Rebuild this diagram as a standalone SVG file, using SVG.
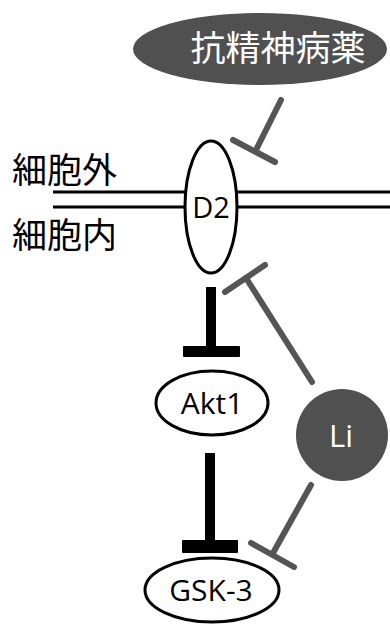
<svg xmlns="http://www.w3.org/2000/svg" width="390" height="635" viewBox="0 0 390 635">
  <style>
    .jp { font-family: "Noto Sans CJK JP", "Noto Sans", sans-serif; font-size: 35px; }
    .lat { font-family: "Open Sans", "Noto Sans", sans-serif; }
    .node { fill: #ffffff; stroke: #000000; stroke-width: 3; }
    .dark { fill: #505050; }
    .white { fill: #ffffff; }
    .blk { fill: #000000; }
    .inh-black { stroke: #000000; stroke-width: 10; stroke-linecap: butt; fill: none; }
    .inh-gray { stroke: #555555; stroke-width: 6; stroke-linecap: round; fill: none; }
    .membrane { stroke: #000000; stroke-width: 3; }
  </style>
  <rect width="390" height="635" fill="#ffffff"/>

  <!-- cell membrane -->
  <g id="membrane">
    <line class="membrane" x1="53" y1="192" x2="390" y2="192"/>
    <line class="membrane" x1="53" y1="207" x2="390" y2="207"/>
    <text class="jp" x="12" y="183">細胞外</text>
    <text class="jp" x="12" y="248">細胞内</text>
  </g>

  <!-- inhibition connectors -->
  <g id="connectors">
    <!-- antipsychotic -| D2 -->
    <line class="inh-gray" x1="281" y1="100" x2="256" y2="150"/>
    <line class="inh-gray" x1="233" y1="140" x2="275" y2="162"/>
    <!-- Li -| D2 -->
    <line class="inh-gray" x1="312" y1="382" x2="246" y2="278"/>
    <line class="inh-gray" x1="225" y1="292" x2="265" y2="265"/>
    <!-- D2 -| Akt1 -->
    <line class="inh-black" x1="211" y1="287" x2="211" y2="350"/>
    <rect class="blk" x="183" y="346" width="57" height="11" rx="1"/>
    <!-- Akt1 -| GSK-3 -->
    <line class="inh-black" x1="210" y1="453" x2="210" y2="545"/>
    <rect class="blk" x="182" y="540" width="56" height="13" rx="1"/>
    <!-- Li -| GSK-3 -->
    <line class="inh-gray" x1="311" y1="485" x2="273" y2="553"/>
    <line class="inh-gray" x1="251" y1="543" x2="294" y2="567"/>
  </g>

  <g id="antipsychotic">
    <ellipse class="dark" cx="260" cy="49" rx="127" ry="36"/>
    <text class="jp white" x="278" y="61" text-anchor="middle">抗精神病薬</text>
  </g>

  <g id="d2">
    <ellipse class="node" cx="211" cy="207" rx="26" ry="66"/>
    <text class="lat" x="211" y="218" font-size="29" text-anchor="middle">D2</text>
  </g>

  <g id="akt1">
    <ellipse class="node" cx="212" cy="403" rx="56" ry="32"/>
    <text class="lat" x="212" y="414" font-size="30" text-anchor="middle">Akt1</text>
  </g>

  <g id="li">
    <circle class="dark" cx="342" cy="435" r="46"/>
    <text class="lat white" x="341" y="447" font-size="31" text-anchor="middle">Li</text>
  </g>

  <g id="gsk3">
    <ellipse class="node" cx="212" cy="590" rx="67" ry="32"/>
    <text class="lat" x="211" y="601" font-size="30" text-anchor="middle">GSK-3</text>
  </g>
</svg>
